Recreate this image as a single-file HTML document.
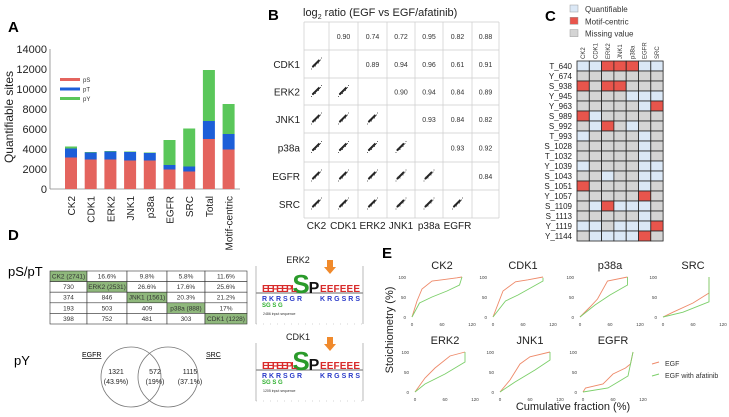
<!DOCTYPE html>
<html><head><meta charset="utf-8"><style>
html,body{margin:0;padding:0;background:#fff;}
svg{display:block;font-family:"Liberation Sans",sans-serif;}
</style></head><body>
<svg id="fig" width="729" height="417" viewBox="0 0 729 417" xmlns="http://www.w3.org/2000/svg">
<g>
<text x="8" y="32" font-size="15" font-weight="bold">A</text>
<text transform="translate(13,117) rotate(-90)" font-size="12" text-anchor="middle" fill="#222">Quantifiable sites</text>
</g>
<g id="pa"></g>
<g id="pb"></g>
<g id="pc"></g>
<g>
<text x="8" y="240" font-size="15" font-weight="bold">D</text>
<text x="8" y="276" font-size="13">pS/pT</text>
<text x="14" y="365" font-size="13">pY</text>
<g id="tbl"></g>
<g>
<circle cx="131" cy="377" r="30" fill="none" stroke="#777" stroke-width="0.8"/>
<circle cx="168" cy="377" r="30" fill="none" stroke="#777" stroke-width="0.8"/>
<text x="82" y="357" font-size="7" text-decoration="underline">EGFR</text>
<text x="206" y="357" font-size="7" text-decoration="underline">SRC</text>
<g font-size="7" text-anchor="middle" fill="#222">
<text x="116" y="374">1321</text><text x="116" y="384">(43.9%)</text>
<text x="155" y="374">572</text><text x="155" y="384">(19%)</text>
<text x="190" y="374">1115</text><text x="190" y="384">(37.1%)</text>
</g></g>
<g id="logos"></g>
</g>
<g id="pe"></g>
</svg>
<script>
var NS='http://www.w3.org/2000/svg';
function mk(t,a,p){var e=document.createElementNS(NS,t);for(var k in a)e.setAttribute(k,a[k]);(p||document.getElementById('fig')).appendChild(e);return e;}
function tx(s,a,p){var e=mk('text',a,p);e.textContent=s;return e;}

/* ---------- Panel A data ---------- */
var aCats=['CK2','CDK1','ERK2','JNK1','p38a','EGFR','SRC','Total','Motif-centric'];
var aPS=[3150,2950,2950,2850,2850,1950,1750,5000,3950];
var aPT=[900,700,800,850,750,450,500,1800,1550];
var aPY=[200,50,50,50,50,2500,3800,5100,3000];
var aTicks=[0,2000,4000,6000,8000,10000,12000,14000];
var aSeries=[['pS',aPS,'#e4645e'],['pT',aPT,'#1c5ed8'],['pY',aPY,'#5ac75a']];
(function(){
 var g=document.getElementById('pa');
 var x0=50,y0=189,ppu=140/14000,step=19.7,bw=12,first=71;
 function ay(v){return y0-v*ppu;}
 function ax(i){return first+i*step;}
 var axl=mk('line',{x1:x0,y1:ay(14000),x2:x0,y2:y0,stroke:'#888','stroke-width':0.8},g);
 
 var bl=mk('line',{x1:x0,y1:y0,x2:240,y2:y0,stroke:'#888','stroke-width':0.8},g);
 
 aTicks.forEach(function(t){
  var l=tx(t,{x:x0-3,y:ay(t)+4,'font-size':11,'text-anchor':'end',fill:'#222'},g);
  
 });
 aCats.forEach(function(c,i){
  var base=0;
  aSeries.forEach(function(s){
   var v=s[1][i];
   var r=mk('rect',{x:ax(i)-bw/2,y:ay(base+v),width:bw,height:v*ppu,fill:s[2]},g);
   
   base+=v;
  });
  var l=tx(c,{transform:'translate('+(ax(i)+4)+',196) rotate(-90)','font-size':10,'text-anchor':'end',fill:'#222'},g);
  
 });
 aSeries.forEach(function(s,k){
  var r=mk('rect',{x:60,y:78+k*9.5,width:20,height:3,fill:s[2]},g);
  
  var t=tx(s[0],{x:83,y:82+k*9.5,'font-size':6,fill:'#333'},g);
  
 });
})();

/* ---------- Panel B data ---------- */
var bKinases=['CK2','CDK1','ERK2','JNK1','p38a','EGFR','SRC'];
var bCorr=[[0.90,0.74,0.72,0.95,0.82,0.88],[0.89,0.94,0.96,0.61,0.91],[0.90,0.94,0.84,0.89],[0.93,0.84,0.82],[0.93,0.92],[0.84]];
(function(){
 var g=document.getElementById('pb');
 var xs=[304,329,358,387,415,443,472,499],ys=[22,50,78,105,133,162,190,218];
 tx('B',{x:268,y:20,'font-size':15,'font-weight':'bold'},g);
 var t=mk('text',{x:303,y:16,'font-size':11,fill:'#222'},g);
 t.innerHTML='log<tspan font-size="7" dy="3">2</tspan><tspan dy="-3"> ratio (EGF vs EGF/afatinib)</tspan>';
 
 xs.forEach(function(x){mk('line',{x1:x,y1:ys[0],x2:x,y2:ys[7],stroke:'#ccc','stroke-width':0.7},g);});
 ys.forEach(function(y){mk('line',{x1:xs[0],y1:y,x2:xs[7],y2:y,stroke:'#ccc','stroke-width':0.7},g);});
 bKinases.forEach(function(k,i){
  var cy=(ys[i]+ys[i+1])/2;
  if(i>0){var l=tx(k,{x:300,y:cy+4,'font-size':10,'text-anchor':'end',fill:'#222'},g);
   }
  if(i<6){var cx=(xs[i]+xs[i+1])/2;var b=tx(k,{x:cx,y:229,'font-size':10,'text-anchor':'middle',fill:'#222'},g);
   }
 });
 var offs=[[-4,3],[-2,1],[0,-1],[2,-2],[4,-4],[-3,1],[1,-2],[3,-3],[-5,5],[5,-6],[-1,2],[2,-1]];
 for(var i=0;i<7;i++)for(var j=0;j<7;j++){
  var cx=(xs[j]+xs[j+1])/2,cy=(ys[i]+ys[i+1])/2;
  if(j>i){var v=bCorr[i][j-i-1];
   var c=tx(v.toFixed(2),{x:cx,y:cy+3,'font-size':7,'text-anchor':'middle',fill:'#333'},g);
   }
  else if(j<i){
   var sg=mk('g',{},g);
   mk('line',{x1:cx-4,y1:cy+3,x2:cx+3,y2:cy-4,stroke:'#222','stroke-width':2},sg);
   offs.forEach(function(o){mk('circle',{cx:cx+o[0],cy:cy+o[1],r:0.5,fill:'#333'},sg);});
  }
 }
})();

/* ---------- Panel C data ---------- */
var cCols=['CK2','CDK1','ERK2','JNK1','p38a','EGFR','SRC'];
var cRows=['T_640','Y_674','S_938','Y_945','Y_963','S_989','S_992','T_993','S_1028','T_1032','Y_1039','S_1043','S_1051','Y_1057','S_1109','S_1113','Y_1119','Y_1144'];
var cCells=['QQMMMQQ','GGGGGGG','MGMMGGG','GGGGQQQ','GGGGGQM','MQGGGGG','GQMGQGG','QGGGGQG','GGGGGQG','GGGGGQG','QGGGGQQ','GGQGGQQ','MGGGGQG','GGGGGMG','GQMQQQG','GGGGGQG','QQGQQQM','GQQQQMG'];
(function(){
 var g=document.getElementById('pc');
 var col={Q:'#dbe8f6',M:'#e8554c',G:'#d4d4d4'};
 tx('C',{x:545,y:21,'font-size':15,'font-weight':'bold'},g);
 [['Quantifiable','Q'],['Motif-centric','M'],['Missing value','G']].forEach(function(e,k){
  var r=mk('rect',{x:570,y:5+k*12.3,width:8,height:7,fill:col[e[1]],stroke:'#999','stroke-width':0.5},g);
  
  var t=tx(e[0],{x:585,y:12+k*12.3,'font-size':8,fill:'#333'},g);
  
 });
 var x0=577,y0=61,cw=12.3,rh=10;
 cCols.forEach(function(c,j){
  var t=tx(c,{transform:'translate('+(x0+j*cw+cw/2+2)+',59) rotate(-90)','font-size':6,fill:'#333'},g);
  
 });
 cRows.forEach(function(r,i){
  var t=tx(r,{x:572,y:y0+i*rh+8,'font-size':8,'text-anchor':'end',fill:'#222'},g);
  
  for(var j=0;j<7;j++){
   var c=mk('rect',{x:x0+j*cw,y:y0+i*rh,width:cw,height:rh,fill:col[cCells[i][j]],stroke:'#222','stroke-width':0.8},g);
   
  }
 });
})();

/* ---------- Panel D table ---------- */
var dRows=[['CK2 (2741)','16.6%','9.8%','5.8%','11.6%'],['730','ERK2 (2531)','26.6%','17.6%','25.6%'],['374','846','JNK1 (1561)','20.3%','21.2%'],['193','503','409','p38a (888)','17%'],['398','752','481','303','CDK1 (1228)']];
(function(){
 var g=document.getElementById('tbl');
 var xs=[50,87,127,167,205,247],y0=271,rh=10.6;
 dRows.forEach(function(r,i){r.forEach(function(v,j){
  var c=mk('rect',{x:xs[j],y:y0+i*rh,width:xs[j+1]-xs[j],height:rh,fill:i==j?'#8fb87c':'#fff',stroke:'#333','stroke-width':0.6},g);
  
  tx(v,{x:(xs[j]+xs[j+1])/2,y:y0+i*rh+7.5,'font-size':6.5,'text-anchor':'middle',fill:'#333'},g);
 });});
 var L=document.getElementById('logos');
 [['ERK2',258,'2486 input sequence'],['CDK1',335,'1205 input sequence']].forEach(function(d){
  var y=d[1];
  tx(d[0],{x:298,y:y+5,'font-size':9,'text-anchor':'middle',fill:'#222'},L);
  mk('path',{d:'M256 '+(y+8)+' v58 M363 '+(y+8)+' v58',stroke:'#aaa','stroke-width':0.8,fill:'none'},L);
  mk('line',{x1:256,y1:y+35,x2:363,y2:y+35,stroke:'#888','stroke-width':1.2},L);
  var ar=mk('path',{d:'M327 '+(y+2)+' h6 v7 h3 l-6 7 l-6 -7 h3 z',fill:'#f08a2c'},L);
  
  tx('S',{x:301,y:y+35,'font-size':26,'font-weight':'bold','text-anchor':'middle',fill:'#2a9a2a'},L);
  tx('P',{x:314,y:y+35,'font-size':16,'font-weight':'bold','text-anchor':'middle',fill:'#111'},L);
  tx('EEFEEPL',{x:262,y:y+34,'font-size':10,'font-weight':'bold',fill:'#d82a2a',textLength:35},L);
  tx('EEFEEE',{x:320,y:y+34,'font-size':10,'font-weight':'bold',fill:'#d82a2a',textLength:40},L);
  tx('RKRSGR',{x:262,y:y+43,'font-size':7,'font-weight':'bold',fill:'#2a3ac8',textLength:40},L);
  tx('KRGSRS',{x:320,y:y+43,'font-size':7,'font-weight':'bold',fill:'#2a3ac8',textLength:40},L);
  tx('SG  S G',{x:262,y:y+49,'font-size':6,'font-weight':'bold',fill:'#30b030'},L);
  tx(d[2],{x:263,y:y+57,'font-size':3.5,fill:'#333'},L);
  mk('line',{x1:256,y1:y+66,x2:363,y2:y+66,stroke:'#aaa','stroke-width':0.6,'stroke-dasharray':'1 6'},L);
 });
})();

/* ---------- Panel E data ---------- */
var eKinases=['CK2','CDK1','p38a','SRC','ERK2','JNK1','EGFR'];
var eXTicks=[0,60,120];
var eYTicks=[0,50,100];
var eEgfX=[[0,10,20,40,60,90,100],[0,20,45,70,100],[0,20,35,55,95],[0,20,60,92,92],[0,20,40,70,100],[0,20,40,60,100],[0,5,40,60,85,95,100]];
var eEgfY=[[0,40,70,90,93,98,100],[0,65,88,93,100],[0,25,45,90,100],[0,12,35,60,100],[0,35,60,90,100],[0,30,70,88,100],[0,10,20,45,60,70,100]];
var eAfaX=[[0,15,40,70,95,100],[0,25,50,100,100],[0,30,60,95,95],[0,40,92,92],[0,20,60,100,100],[0,30,70,100,100],[0,50,90,95,100]];
var eAfaY=[[0,35,50,65,80,100],[0,40,55,90,98],[0,30,55,80,100],[0,12,38,100],[0,20,45,75,100],[0,25,55,80,100],[0,10,40,70,100]];
(function(){
 var g=document.getElementById('pe');
 tx('E',{x:382,y:258,'font-size':15,'font-weight':'bold'},g);
 var yl=tx('Stoichiometry (%)',{transform:'translate(393,330) rotate(-90)','font-size':11,'text-anchor':'middle',fill:'#222'},g);
 
 var xl=tx('Cumulative fraction (%)',{x:573,y:410,'font-size':11,'text-anchor':'middle',fill:'#222'},g);
 
 var org=[[412,317],[493,317],[580,317],[663,317],[415,392],[500,392],[583,392]];
 var W=60,H=40;
 eKinases.forEach(function(k,i){
  var ox=org[i][0],oy=org[i][1];
  function sx(v){return ox+v/120*W;}
  function sy(v){return oy-v/100*H;}
  var pg=mk('g',{},g);
  var t=tx(k,{x:ox+30,y:oy-H-8,'font-size':11,'text-anchor':'middle',fill:'#222'},pg);
  
  eXTicks.forEach(function(v){tx(v,{x:sx(v),y:oy+9,'font-size':4.5,'text-anchor':'middle',fill:'#444'},pg);});
  eYTicks.forEach(function(v){tx(v,{x:ox-6,y:sy(v)+2,'font-size':4.5,'text-anchor':'end',fill:'#444'},pg);});
  [[eEgfX[i],eEgfY[i],'#ee8a6a','egf'],[eAfaX[i],eAfaY[i],'#7ccf6a','afatinib']].forEach(function(s){
   var d=s[0].map(function(x,n){return (n?'L':'M')+sx(x).toFixed(1)+' '+sy(s[1][n]).toFixed(1);}).join(' ');
   var p=mk('path',{d:d,fill:'none',stroke:s[2],'stroke-width':0.9},pg);
   
  });
 });
 [['EGF','#ee8a6a',364],['EGF with afatinib','#7ccf6a',376]].forEach(function(e){
  var l=mk('line',{x1:652,y1:e[2],x2:659,y2:e[2]-2,stroke:e[1],'stroke-width':1},g);
  
  var t=tx(e[0],{x:665,y:e[2]+2,'font-size':7,fill:'#333'},g);
  
 });
})();
</script>
</body></html>
